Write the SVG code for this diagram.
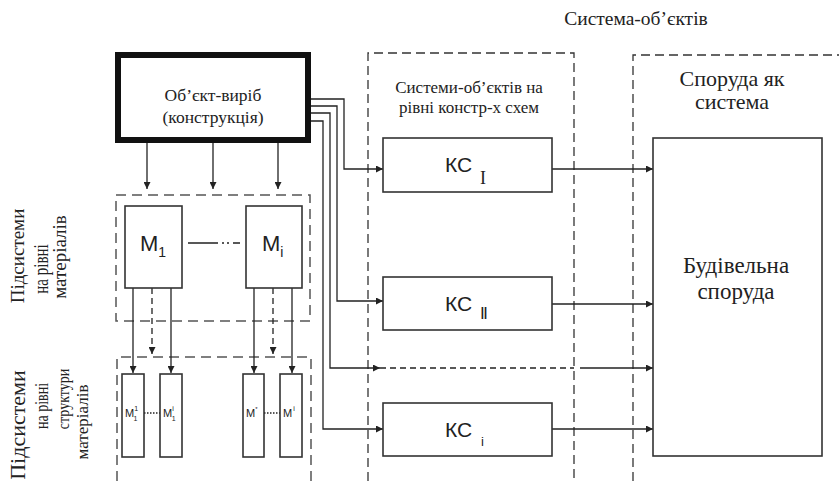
<svg xmlns="http://www.w3.org/2000/svg" width="839" height="481" viewBox="0 0 839 481">
<defs>
<marker id="ah" viewBox="0 0 10 10" refX="10" refY="5" markerWidth="7" markerHeight="7" markerUnits="userSpaceOnUse" orient="auto">
<path d="M0,0 L10,5 L0,10 z" fill="#222"/>
</marker>
<style>
.serif{font-family:'Liberation Serif','DejaVu Serif',serif;fill:#222}
.sans{font-family:'Liberation Sans','DejaVu Sans',sans-serif;fill:#222}
.box{fill:#fff;stroke:#333;stroke-width:1.6}
.dash{fill:none;stroke:#333;stroke-width:1.3;stroke-dasharray:9,5}
.dashg{fill:none;stroke:#555;stroke-width:1.5;stroke-dasharray:10,6}
.ln{fill:none;stroke:#222;stroke-width:1.3}
.arr{fill:none;stroke:#222;stroke-width:1.3;marker-end:url(#ah)}
.arrd{fill:none;stroke:#222;stroke-width:1.3;stroke-dasharray:6,4;marker-end:url(#ah)}
</style>
</defs>
<rect width="839" height="481" fill="#fff"/>

<g id="title">
<text class="serif" x="636" y="25" font-size="19.5" text-anchor="middle">Система-об’єктів</text>
</g>

<g id="containers">
<rect class="dashg" x="116" y="195" width="194" height="126"/>
<path class="dashg" d="M117,481 V357 H311 V481"/>
<path class="dash" d="M368,481 V53 H574 V481"/>
<path class="dash" d="M633,481 V55 H839"/>
<text class="serif" x="469" y="93" font-size="17" text-anchor="middle">Системи-об’єктів на</text>
<text class="serif" x="469" y="113" font-size="17" text-anchor="middle">рівні констр-х схем</text>
<text class="serif" x="732" y="86" font-size="22" text-anchor="middle">Споруда як</text>
<text class="serif" x="732" y="109" font-size="22" text-anchor="middle">система</text>
</g>

<g id="side-labels">
<text class="serif" font-size="19" text-anchor="middle" transform="translate(24,256) rotate(-90)">Підсистеми</text>
<text class="serif" font-size="15" text-anchor="middle" transform="translate(48,269) rotate(-90) scale(1,1.4)">на рівні</text>
<text class="serif" font-size="19" text-anchor="middle" transform="translate(66,257) rotate(-90)">матеріалів</text>
<text class="serif" font-size="22" text-anchor="middle" transform="translate(25,425) rotate(-90)">Підсистеми</text>
<text class="serif" font-size="14" text-anchor="middle" transform="translate(48,406) rotate(-90) scale(1,1.4)">на рівні</text>
<text class="serif" font-size="14" text-anchor="middle" transform="translate(69,399) rotate(-90) scale(1,1.2)">структури</text>
<text class="serif" font-size="17" text-anchor="middle" transform="translate(88,422) rotate(-90)">матеріалів</text>
</g>

<g id="connectors">
<path class="arr" d="M147,143 V189"/>
<path class="arr" d="M213,143 V189"/>
<path class="arr" d="M278,143 V189"/>
<path class="ln" d="M188,243 H240" stroke-dasharray="30,4,2,3,2,4,30"/>
<path class="arr" d="M133,288 V373"/>
<path class="arrd" d="M152,288 V354"/>
<path class="arr" d="M171,288 V373"/>
<path class="arr" d="M254,288 V373"/>
<path class="arrd" d="M273,288 V354"/>
<path class="arr" d="M292,288 V373"/>
<path class="ln" d="M144,413 H160" stroke-dasharray="1.5,1.5"/>
<path class="ln" d="M264,413 H280" stroke-dasharray="1.5,1.5"/>
<path class="arr" d="M310,99 H344 V169 H383"/>
<path class="arr" d="M310,106 H337 V301 H383"/>
<path class="arr" d="M310,113 H330 V368 H380"/>
<path class="ln" d="M380,368 H574" stroke-dasharray="6,4"/>
<path class="arr" d="M580,368 H653"/>
<path class="arr" d="M310,121 H323 V429 H383"/>
<path class="arr" d="M552,169 H653"/>
<path class="arr" d="M552,304 H653"/>
<path class="arr" d="M552,429 H653"/>
</g>

<g id="object">
<rect x="118" y="55" width="190" height="85" fill="#fff" stroke="#111" stroke-width="6"/>
<text class="serif" x="213" y="101" font-size="17.5" text-anchor="middle">Об’єкт-виріб</text>
<text class="serif" x="213" y="123" font-size="17.5" text-anchor="middle">(конструкція)</text>
</g>

<g id="M1">
<rect class="box" x="125" y="206" width="57" height="82"/>
<text class="sans" x="140" y="251" font-size="22">M<tspan font-size="14" dy="6">1</tspan></text>
</g>
<g id="Mi">
<rect class="box" x="246" y="206" width="56" height="82"/>
<text class="sans" x="262" y="251" font-size="22">M<tspan font-size="14" dy="6">i</tspan></text>
</g>

<g id="M11">
<rect class="box" x="122" y="374" width="22" height="83"/>
<text class="sans" x="125" y="417" font-size="11">M<tspan font-size="7" dy="-6">1</tspan><tspan font-size="7" dx="-4" dy="10">1</tspan></text>
</g>
<g id="M1i">
<rect class="box" x="160" y="374" width="22" height="83"/>
<text class="sans" x="163" y="417" font-size="11">M<tspan font-size="7" dy="-6">i</tspan><tspan font-size="7" dx="-2" dy="10">1</tspan></text>
</g>
<g id="Ms">
<rect class="box" x="243" y="374" width="21" height="83"/>
<text class="sans" x="246" y="417" font-size="11">M<tspan font-size="6" dy="-6">*</tspan></text>
</g>
<g id="Mii">
<rect class="box" x="280" y="374" width="22" height="83"/>
<text class="sans" x="283" y="417" font-size="11">M<tspan font-size="7" dx="1" dy="-6">i</tspan></text>
</g>

<g id="KS1">
<rect class="box" x="383" y="138" width="169" height="54"/>
<text class="sans" x="445" y="172" font-size="21">КС</text>
<text class="serif" x="480" y="184" font-size="18">I</text>
</g>
<g id="KS2">
<rect class="box" x="383" y="277" width="169" height="53"/>
<text class="sans" x="445" y="311" font-size="21">КС</text>
<text x="480" y="319" font-size="16" font-family="DejaVu Sans, sans-serif" fill="#222">Ⅱ</text>
</g>
<g id="KSi">
<rect class="box" x="383" y="403" width="169" height="53"/>
<text class="sans" x="445" y="437" font-size="21">КС</text>
<text class="sans" x="481" y="446" font-size="13">i</text>
</g>

<g id="building">
<rect class="box" x="653" y="138" width="169" height="318"/>
<text class="serif" x="736" y="273" font-size="23" text-anchor="middle">Будівельна</text>
<text class="serif" x="736" y="299" font-size="23" text-anchor="middle">споруда</text>
</g>
</svg>
